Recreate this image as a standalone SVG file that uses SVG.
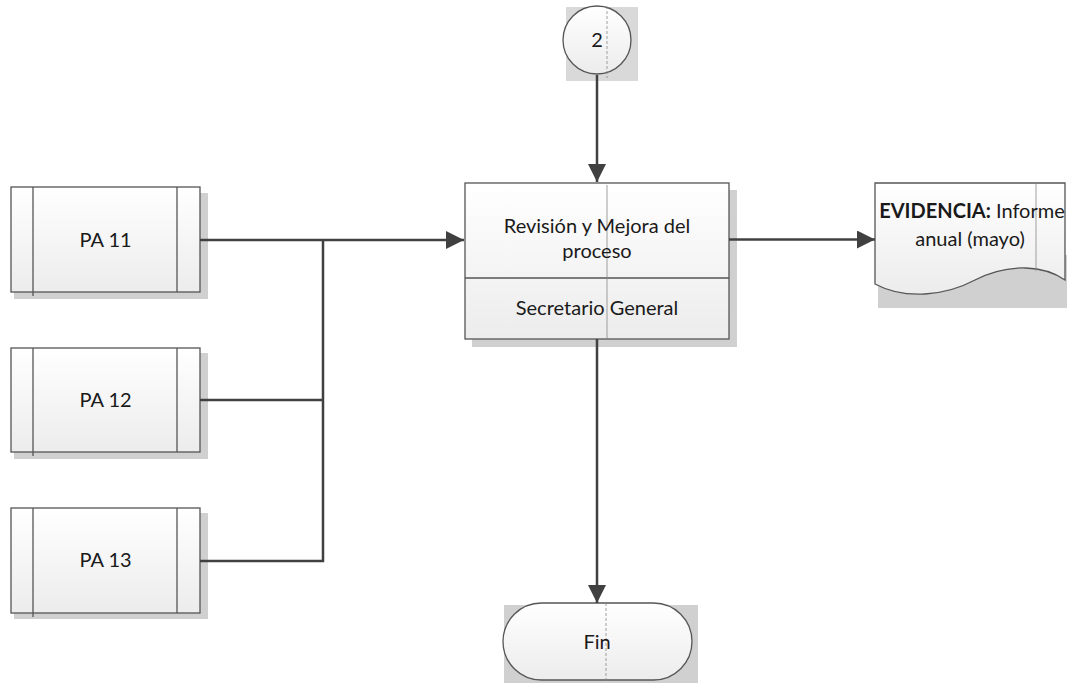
<svg xmlns="http://www.w3.org/2000/svg" width="1067" height="684" viewBox="0 0 1067 684">
<style>
.shape{fill:url(#g);stroke:#555;stroke-width:1.3}
.shadow{fill:#d0d0d0;stroke:none}
.inner{stroke:#555;stroke-width:1.3;fill:none}
.guide{stroke:#888;stroke-width:0.8;fill:none}
.t{font-family:Lato,"Liberation Sans",sans-serif;font-size:20px;fill:#1a1a1a;text-anchor:middle}
.b{font-weight:bold}
.c{stroke:#404040;stroke-width:2.5;fill:none}
</style>
<defs>
<linearGradient id="g" x1="0" y1="0" x2="0" y2="1">
<stop offset="0" stop-color="#ffffff"/>
<stop offset="1" stop-color="#ececec"/>
</linearGradient>
<marker id="arr" viewBox="0 0 18 18" refX="18" refY="9" markerWidth="18" markerHeight="18" markerUnits="userSpaceOnUse" orient="auto">
<path d="M0,0 L18,9 L0,18 Z" fill="#404040"/>
</marker>
</defs>

<g id="pa11">
<rect class="shadow" x="14" y="193" width="194" height="106"/>
<rect class="shape" x="11" y="187" width="189" height="105"/>
<line class="inner" x1="33" y1="187" x2="33" y2="296"/>
<line class="inner" x1="177" y1="187" x2="177" y2="292"/>
<text class="t" x="105.5" y="247">PA 11</text>
</g>

<g id="pa12">
<rect class="shadow" x="14" y="353" width="194" height="106"/>
<rect class="shape" x="11" y="348" width="189" height="104"/>
<line class="inner" x1="33" y1="348" x2="33" y2="456"/>
<line class="inner" x1="177" y1="348" x2="177" y2="452"/>
<text class="t" x="105.5" y="407">PA 12</text>
</g>

<g id="pa13">
<rect class="shadow" x="14" y="513" width="194" height="106"/>
<rect class="shape" x="11" y="508" width="189" height="105"/>
<line class="inner" x1="33" y1="508" x2="33" y2="617"/>
<line class="inner" x1="177" y1="508" x2="177" y2="613"/>
<text class="t" x="105.5" y="567">PA 13</text>
</g>

<g id="connector2">
<rect class="shadow" x="566" y="7" width="72" height="74" fill-opacity="0.8"/>
<circle class="shape" cx="597" cy="40" r="34"/>
<line class="guide" x1="607" y1="6" x2="607" y2="78" stroke-dasharray="3,2"/>
<text class="t" x="597" y="47">2</text>
</g>

<g id="proceso">
<rect class="shadow" x="472" y="190" width="265" height="157"/>
<rect class="shape" x="465" y="183" width="264" height="156"/>
<line class="inner" x1="465" y1="278" x2="729" y2="278"/>
<line class="guide" x1="607" y1="185" x2="607" y2="339"/>
<text class="t" x="597" y="233">Revisión y Mejora del</text>
<text class="t" x="597" y="258">proceso</text>
<text class="t" x="597" y="315">Secretario General</text>
</g>

<g id="evidencia">
<rect class="shadow" x="878" y="255" width="189" height="53"/>
<path class="shape" d="M875,183 H1065 V280 C1045,266 1010,262 975,280 C945,296 905,300 875,284 Z"/>
<line class="guide" x1="1036" y1="183" x2="1036" y2="271"/>
<text class="t" x="972" y="218"><tspan class="b">EVIDENCIA:</tspan> Informe</text>
<text class="t" x="970" y="246">anual (mayo)</text>
</g>

<g id="fin">
<rect class="shadow" x="504" y="605" width="194" height="78"/>
<rect class="shape" x="503" y="603" width="189" height="77" rx="38.5" ry="38.5"/>
<line class="guide" x1="606" y1="603" x2="606" y2="683" stroke-dasharray="3,2"/>
<text class="t" x="597" y="649">Fin</text>
</g>

<g id="connectors">
<path class="c" d="M200,240 H464" marker-end="url(#arr)"/>
<path class="c" d="M200,400 H323"/>
<path class="c" d="M200,561 H323 V240"/>
<path class="c" d="M597,75 V182" marker-end="url(#arr)"/>
<path class="c" d="M729,239.5 H875" marker-end="url(#arr)"/>
<path class="c" d="M597,339 V603" marker-end="url(#arr)"/>
</g>
</svg>
